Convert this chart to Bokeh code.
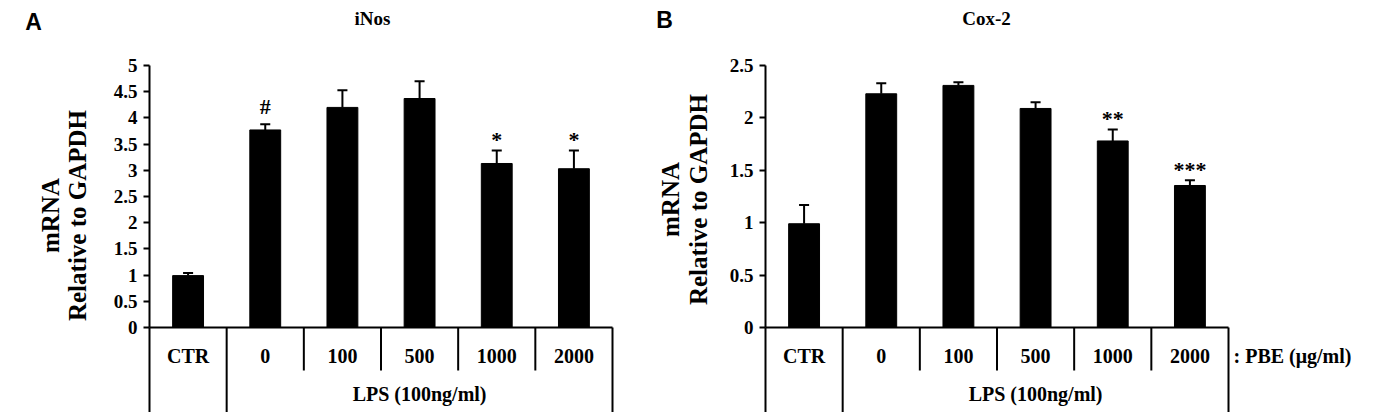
import math
from bokeh.plotting import figure
from bokeh.models import Range1d, FixedTicker, LinearAxis, ColumnDataSource
from bokeh.layouts import row
from bokeh.core.properties import value
from bokeh.embed import file_html
from bokeh.resources import INLINE

# ---------------- data ----------------
groups = ["CTR", "0", "100", "500", "1000", "2000"]
group_caption = "LPS (100ng/ml)"
unit_caption = ": PBE (\u03bcg/ml)"

inos_mean = [0.99, 3.77, 4.20, 4.37, 3.13, 3.03]
inos_err = [0.05, 0.11, 0.33, 0.33, 0.25, 0.35]
inos_marks = ["", "#", "", "", "*", "*"]
inos_ticks = [0, 0.5, 1, 1.5, 2, 2.5, 3, 3.5, 4, 4.5, 5]

cox_mean = [0.99, 2.23, 2.31, 2.09, 1.78, 1.355]
cox_err = [0.18, 0.10, 0.03, 0.06, 0.11, 0.05]
cox_marks = ["", "", "", "", "**", "***"]
cox_ticks = [0, 0.5, 1, 1.5, 2, 2.5]

SERIF = "Liberation Serif"
SANS = "Liberation Sans"


def tick_label(t):
    return "%g" % t


def make_panel(title, letter, means, errs, marks, ticks, width, left, right,
               unit_label=False):
    ymax_axis = ticks[-1]
    ppu = 262.0 / ymax_axis      # pixels per unit on the value axis
    zero_px = 327.0
    gpx = (width - left - right) / 6.0

    def dy(px):  # pixel row -> data y
        return (zero_px - px) / ppu

    def dx(px):  # pixel column (relative to figure) -> data x
        return (px - left) / gpx

    p = figure(width=width, height=412, x_range=Range1d(dx(0), dx(width)),
               y_range=Range1d(dy(412), dy(0)), output_backend="svg",
               toolbar_location=None, x_axis_location=None,
               y_axis_location=None,
               min_border_left=0, min_border_right=0,
               min_border_top=0, min_border_bottom=0)
    p.outline_line_color = None
    p.xgrid.visible = False
    p.ygrid.visible = False
    p.background_fill_color = "white"
    p.border_fill_color = "white"

    ax = LinearAxis(fixed_location=0)
    ax.ticker = FixedTicker(ticks=ticks)
    ax.major_label_overrides = {t: tick_label(t) for t in ticks}
    ax.bounds = (0, ymax_axis)
    ax.axis_line_width = 2
    ax.axis_line_color = "black"
    ax.major_tick_line_width = 2
    ax.major_tick_line_color = "black"
    ax.major_tick_out = 6
    ax.major_tick_in = 0
    ax.minor_tick_line_color = None
    ax.major_label_text_font = SERIF
    ax.major_label_text_font_style = "bold"
    ax.major_label_text_font_size = "19px"
    ax.major_label_text_color = "black"
    ax.major_label_standoff = 6
    p.add_layout(ax, "left")

    centers = [i + 0.5 for i in range(len(groups))]
    tops = [m + e for m, e in zip(means, errs)]
    mark_y = [t + (18.0 if mk == "#" else 11.0) / ppu for t, mk in zip(tops, marks)]
    src = ColumnDataSource(dict(x=centers, m=means, t=tops, my=mark_y,
                                xl=[c - 0.065 for c in centers],
                                xr=[c + 0.065 for c in centers],
                                g=groups, mk=marks))

    p.segment(x0="x", y0="m", x1="x", y1="t", source=src,
              line_color="black", line_width=2)
    p.segment(x0="xl", y0="t", x1="xr", y1="t", source=src,
              line_color="black", line_width=2)
    p.vbar(x="x", top="m", bottom=0, width=0.4, source=src,
           fill_color="black", line_color="black")

    # significance marks
    p.text(x="x", y="my", text="mk", source=src, text_align="center",
           text_baseline="alphabetic",
           text_font=value(SERIF), text_font_style="bold",
           text_font_size="22px", text_color="black")

    # baseline of the bars
    p.segment(x0=[0], x1=[6], y0=[0], y1=[0], line_color="black", line_width=2)

    # table dividers
    long_x = [0, 1, 6]
    short_x = [2, 3, 4, 5]
    p.segment(x0=long_x, x1=long_x, y0=[0] * 3, y1=[dy(412)] * 3,
              line_color="black", line_width=2)
    p.segment(x0=short_x, x1=short_x, y0=[0] * 4, y1=[dy(370)] * 4,
              line_color="black", line_width=2)

    txt = dict(text_font=value(SERIF), text_font_style="bold",
               text_color="black")
    # group labels
    p.text(x="x", y=dy(355), text="g", source=src, text_align="center",
           text_baseline="middle", text_font_size="20px", **txt)
    p.text(x=[3.5], y=[dy(393)], text=[group_caption], text_align="center",
           text_baseline="middle", text_font_size="20px", **txt)

    # title
    p.text(x=[dx(title[1])], y=[dy(18)], text=[title[0]], text_align="center",
           text_baseline="middle", text_font_size="19px", **txt)
    # panel letter
    p.text(x=[dx(letter[1])], y=[dy(letter[2])], text=[letter[0]],
           text_align="center", text_baseline="middle",
           text_font=value(SANS), text_font_style="bold",
           text_font_size="23px", text_color="black")
    # y axis title (two lines)
    ycen = dy(letter[5])
    p.text(x=[dx(letter[3]), dx(letter[4])], y=[ycen, ycen],
           text=["mRNA", "Relative to GAPDH"], angle=math.pi / 2,
           text_align="center", text_baseline="middle",
           text_font_size="25px", **txt)
    if unit_label:
        p.text(x=[6], y=[dy(355)], x_offset=5, text=[unit_caption],
               text_align="left", text_baseline="middle",
               text_font_size="20px", **txt)
    return p


pA = make_panel(("iNos", 372), ("A", 33, 21, 50, 77, 215), inos_mean, inos_err,
                inos_marks, inos_ticks, width=640, left=149, right=28)
pB = make_panel(("Cox-2", 986 - 640), ("B", 664 - 640, 19, 670 - 640, 698 - 640, 199),
                cox_mean, cox_err, cox_marks, cox_ticks, width=735, left=125,
                right=147, unit_label=True)

layout = row(pA, pB, spacing=0)
open("out.html", "w").write(file_html(layout, INLINE))
